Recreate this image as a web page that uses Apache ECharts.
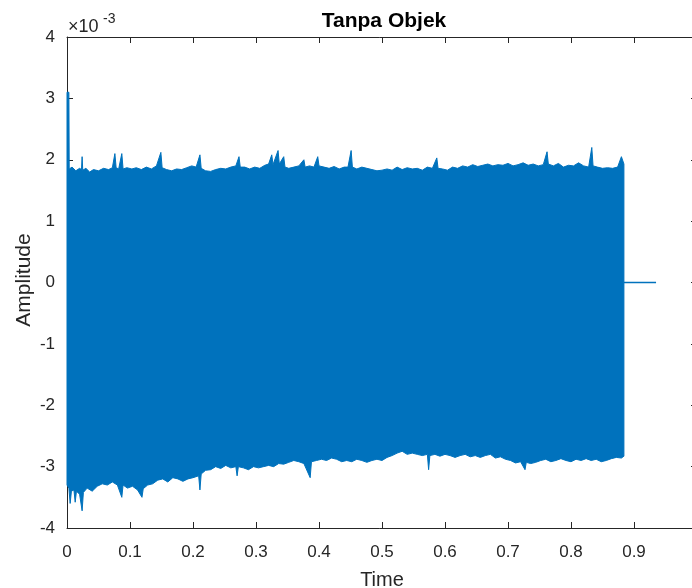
<!DOCTYPE html>
<html>
<head>
<meta charset="utf-8">
<script src="https://cdn.jsdelivr.net/npm/echarts@6/dist/echarts.min.js"></script>
<style>html,body{margin:0;padding:0;background:#fff}#c{width:692px;height:588px}</style>
</head>
<body>
<div id="c"></div>
<script>
// Values in units of 1e-3 (axis shows ×10^-3)
var upperTime = [0,0.003,0.0035,0.008,0.014,0.02,0.023,0.024,0.025,0.03,0.036,0.042,0.05,0.058,0.066,0.072,0.076,0.078,0.082,0.087,0.089,0.095,0.103,0.11,0.118,0.126,0.134,0.142,0.149,0.151,0.158,0.166,0.174,0.182,0.19,0.198,0.205,0.211,0.213,0.22,0.228,0.236,0.244,0.252,0.26,0.268,0.273,0.275,0.282,0.29,0.298,0.306,0.314,0.32,0.325,0.327,0.335,0.337,0.344,0.346,0.352,0.36,0.368,0.376,0.378,0.385,0.392,0.398,0.4,0.408,0.416,0.424,0.432,0.44,0.446,0.451,0.453,0.46,0.468,0.476,0.484,0.492,0.5,0.508,0.516,0.524,0.532,0.54,0.548,0.556,0.564,0.572,0.58,0.587,0.589,0.596,0.604,0.612,0.62,0.628,0.636,0.644,0.652,0.66,0.668,0.676,0.684,0.692,0.7,0.708,0.716,0.724,0.732,0.74,0.748,0.756,0.762,0.764,0.772,0.78,0.788,0.796,0.804,0.812,0.82,0.828,0.833,0.835,0.842,0.85,0.858,0.866,0.874,0.88,0.884];
var upperValue = [3.1,3.1,1.85,1.88,1.82,1.86,1.84,2.05,1.83,1.86,1.8,1.84,1.82,1.86,1.84,1.87,2.1,1.87,1.85,2.1,1.85,1.87,1.85,1.87,1.84,1.88,1.85,1.9,2.12,1.87,1.84,1.82,1.85,1.84,1.87,1.9,1.88,2.08,1.86,1.82,1.81,1.84,1.86,1.85,1.88,1.9,2.05,1.88,1.88,1.85,1.88,1.86,1.91,1.93,2.08,1.92,2.15,1.93,2.05,1.88,1.86,1.88,1.9,2.0,1.88,1.9,1.88,2.05,1.9,1.88,1.86,1.89,1.85,1.88,1.88,2.15,1.88,1.85,1.88,1.86,1.84,1.82,1.83,1.85,1.83,1.88,1.84,1.87,1.85,1.86,1.83,1.88,1.86,2.03,1.86,1.85,1.83,1.88,1.86,1.9,1.88,1.92,1.89,1.91,1.93,1.9,1.92,1.91,1.94,1.9,1.92,1.95,1.91,1.93,1.9,1.92,2.13,1.93,1.9,1.94,1.88,1.91,1.9,1.95,1.9,1.88,2.2,1.9,1.88,1.86,1.87,1.86,1.88,2.05,1.93];
var lowerTime = [0,0.003,0.005,0.007,0.011,0.013,0.015,0.02,0.024,0.026,0.032,0.04,0.048,0.056,0.064,0.072,0.08,0.087,0.089,0.096,0.104,0.112,0.119,0.121,0.128,0.136,0.144,0.152,0.16,0.168,0.176,0.184,0.192,0.2,0.209,0.211,0.213,0.22,0.228,0.236,0.244,0.252,0.26,0.268,0.27,0.272,0.28,0.288,0.296,0.304,0.312,0.32,0.328,0.336,0.344,0.352,0.36,0.368,0.376,0.386,0.388,0.396,0.404,0.412,0.42,0.428,0.436,0.444,0.452,0.46,0.468,0.476,0.484,0.492,0.5,0.508,0.516,0.524,0.532,0.54,0.548,0.556,0.564,0.572,0.574,0.576,0.584,0.592,0.6,0.608,0.616,0.624,0.632,0.64,0.648,0.656,0.664,0.672,0.68,0.688,0.696,0.704,0.712,0.72,0.727,0.729,0.736,0.744,0.752,0.76,0.768,0.776,0.784,0.792,0.8,0.808,0.816,0.824,0.832,0.84,0.848,0.856,0.864,0.872,0.88,0.884];
var lowerValue = [-3.3,-3.35,-3.6,-3.4,-3.38,-3.58,-3.4,-3.45,-3.72,-3.42,-3.35,-3.4,-3.32,-3.28,-3.3,-3.25,-3.3,-3.5,-3.3,-3.35,-3.32,-3.38,-3.5,-3.36,-3.3,-3.28,-3.22,-3.2,-3.25,-3.18,-3.2,-3.24,-3.2,-3.18,-3.15,-3.38,-3.12,-3.06,-3.05,-3.0,-3.03,-2.98,-3.02,-3.0,-3.15,-3.0,-3.02,-3.05,-3.0,-3.02,-3.0,-2.98,-3.0,-2.95,-2.96,-2.93,-2.9,-2.92,-2.95,-3.18,-2.92,-2.9,-2.88,-2.9,-2.86,-2.88,-2.92,-2.9,-2.92,-2.88,-2.9,-2.93,-2.9,-2.88,-2.9,-2.85,-2.82,-2.78,-2.75,-2.8,-2.78,-2.8,-2.82,-2.8,-3.05,-2.82,-2.8,-2.83,-2.8,-2.82,-2.85,-2.82,-2.8,-2.84,-2.82,-2.85,-2.82,-2.8,-2.86,-2.84,-2.88,-2.9,-2.94,-2.92,-3.05,-2.93,-2.95,-2.93,-2.9,-2.88,-2.92,-2.9,-2.87,-2.9,-2.92,-2.88,-2.9,-2.87,-2.9,-2.88,-2.92,-2.9,-2.87,-2.85,-2.86,-2.83];
var tailTime = [0.884, 0.935];
var tailValue = [0, 0];
var xTicks = [0,0.1,0.2,0.3,0.4,0.5,0.6,0.7,0.8,0.9,1];
var yTicks = [-4,-3,-2,-1,0,1,2,3,4];

var FONT = "'Liberation Sans', Arial, Helvetica, sans-serif";
var INK = '#262626';
var BLUE = '#0072BD';

var upperPts = upperTime.map(function(t,i){return [t, upperValue[i]];});
var lowerPts = lowerTime.map(function(t,i){return [t, lowerValue[i]];});
var tailPts = tailTime.map(function(t,i){return [t, tailValue[i]];});

function axisCommon(extra){
  var o = {
    type:'value', splitLine:{show:false},
    axisLine:{show:true, onZero:false, lineStyle:{color:INK, width:1}},
    axisTick:{show:true, inside:true, length:6, lineStyle:{color:INK}},
    axisLabel:{show:false}
  };
  for (var k in extra) o[k]=extra[k];
  return o;
}

var chart = echarts.init(document.getElementById('c'), null, {renderer:'canvas'});
chart.setOption({
  animation:false,
  backgroundColor:'#fff',
  grid:{left:67, top:37, width:630, height:491, containLabel:false, outerBoundsMode:'none'},
  graphic:[
    {type:'text', x:384, y:21, style:{text:'Tanpa Objek', font:'bold 21px '+FONT, fill:'#000', align:'center', verticalAlign:'middle'}},
    {type:'text', x:68, y:27, style:{text:'\u00d710', font:'18px '+FONT, fill:INK, align:'left', verticalAlign:'middle'}},
    {type:'text', x:103, y:19, style:{text:'-3', font:'14px '+FONT, fill:INK, align:'left', verticalAlign:'middle'}},
    {type:'text', x:24, y:280, rotation:Math.PI/2, style:{text:'Amplitude', font:'21px '+FONT, fill:INK, align:'center', verticalAlign:'middle'}}
  ],
  xAxis:[
    axisCommon({min:xTicks[0], max:xTicks[xTicks.length-1], interval:0.1, position:'bottom',
      axisLabel:{show:true, color:INK, fontSize:17, fontFamily:FONT, margin:16,
        formatter:function(v){ return v>=1 ? '' : String(+v.toFixed(1)); }},
      name:'Time', nameLocation:'middle', nameGap:42,
      nameTextStyle:{color:INK, fontSize:20, fontFamily:FONT}}),
    axisCommon({min:xTicks[0], max:xTicks[xTicks.length-1], interval:0.1, position:'top'})
  ],
  yAxis:[
    axisCommon({min:yTicks[0], max:yTicks[yTicks.length-1], interval:1, position:'left',
      axisLabel:{show:true, color:INK, fontSize:17, fontFamily:FONT, margin:12}}),
    axisCommon({min:yTicks[0], max:yTicks[yTicks.length-1], interval:1, position:'right'})
  ],
  series:[
    {
      type:'custom', xAxisIndex:0, yAxisIndex:0,
      data:[[0,0]],
      renderItem:function(params, api){
        var pts = [];
        upperPts.forEach(function(p){ pts.push(api.coord(p)); });
        for (var i=lowerPts.length-1;i>=0;i--) pts.push(api.coord(lowerPts[i]));
        return {type:'polygon', shape:{points:pts}, style:{fill:BLUE, stroke:BLUE, lineWidth:1}};
      }
    },
    {
      type:'line', xAxisIndex:0, yAxisIndex:0, data:tailPts, symbol:'none',
      lineStyle:{color:BLUE, width:1.3}
    }
  ]
});
</script>
</body>
</html>
